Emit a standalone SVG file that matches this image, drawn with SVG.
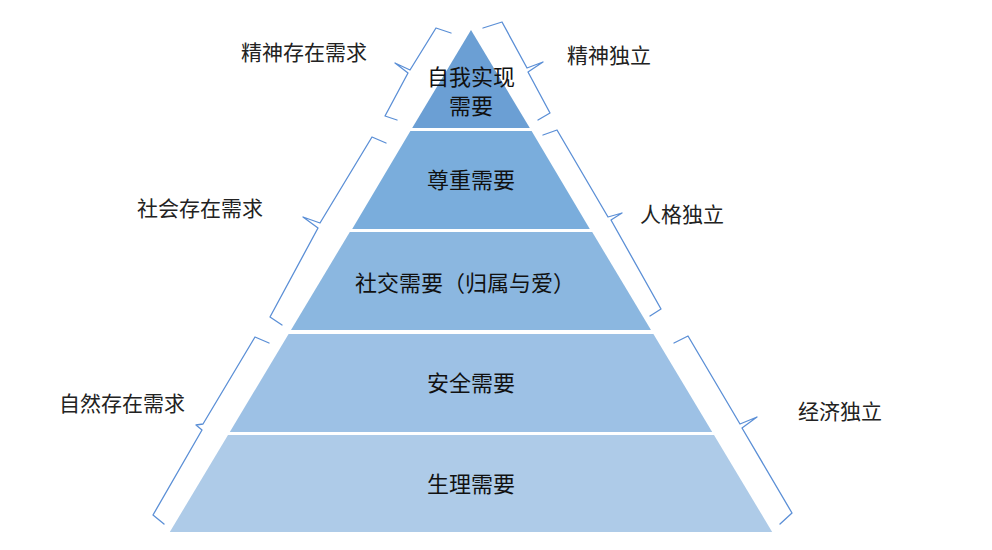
<svg xmlns="http://www.w3.org/2000/svg" width="992" height="550" viewBox="0 0 992 550">
<style>
.layer text{font-family:"Noto Sans CJK SC","Noto Sans",sans-serif;font-size:22px;fill:#111;text-anchor:middle;dominant-baseline:central}
.lbl text{font-family:"Noto Sans CJK SC","Noto Sans",sans-serif;font-size:21px;fill:#222;text-anchor:middle;dominant-baseline:central}
.brace{fill:none;stroke:#5b8fd6;stroke-width:1.3;stroke-linejoin:round;stroke-linecap:round}
</style>
<rect width="992" height="550" fill="#fff"/>
<g id="layer-self" class="layer">
<polygon points="471,30 529.8,128 412.2,128" fill="#6b9fd4"/>
<text x="471" y="75">自我实现</text>
<text x="471" y="104">需要</text>
</g>
<g id="layer-esteem" class="layer">
<polygon points="410.4,131 531.6,131 589.8,229 352.2,229" fill="#7aaddc"/>
<text x="471" y="178">尊重需要</text>
</g>
<g id="layer-social" class="layer">
<polygon points="349.8,232 592.2,232 651,330 291,330" fill="#8bb7e0"/>
<text x="465" y="281">社交需要（归属与爱）</text>
</g>
<g id="layer-safety" class="layer">
<polygon points="288.6,334 653.4,334 712.2,432 229.8,432" fill="#9dc1e5"/>
<text x="471" y="381">安全需要</text>
</g>
<g id="layer-physio" class="layer">
<polygon points="228,435 714,435 772.2,532 169.8,532" fill="#aecbe8"/>
<text x="471" y="482">生理需要</text>
</g>
<g id="connectors">
<path class="brace" d="M451,33 L436,28 L410,70 L395,63 L408,73 L385,116 L397,120"/>
<path class="brace" d="M386,143 L372,137 L320,223 L303,217 L318,228 L270,317 L282,325"/>
<path class="brace" d="M269,343 L255,337 L203,424 L196,425 L202,430 L153,515 L164,524"/>
<path class="brace" d="M483,28 L502,22 L527,68 L543,62 L528,72 L550,113 L538,120"/>
<path class="brace" d="M543,135 L557,130 L608,217 L622,213 L611,220 L661,309 L650,316"/>
<path class="brace" d="M674,343 L688,336 L740,424 L757,417 L742,428 L792,513 L780,524"/>
</g>
<g id="label-spirit-need" class="lbl"><text x="304" y="51">精神存在需求</text></g>
<g id="label-spirit-ind" class="lbl"><text x="609" y="54">精神独立</text></g>
<g id="label-social-need" class="lbl"><text x="200" y="207">社会存在需求</text></g>
<g id="label-person-ind" class="lbl"><text x="682" y="213">人格独立</text></g>
<g id="label-nature-need" class="lbl"><text x="122" y="402">自然存在需求</text></g>
<g id="label-econ-ind" class="lbl"><text x="840" y="410">经济独立</text></g>
</svg>
